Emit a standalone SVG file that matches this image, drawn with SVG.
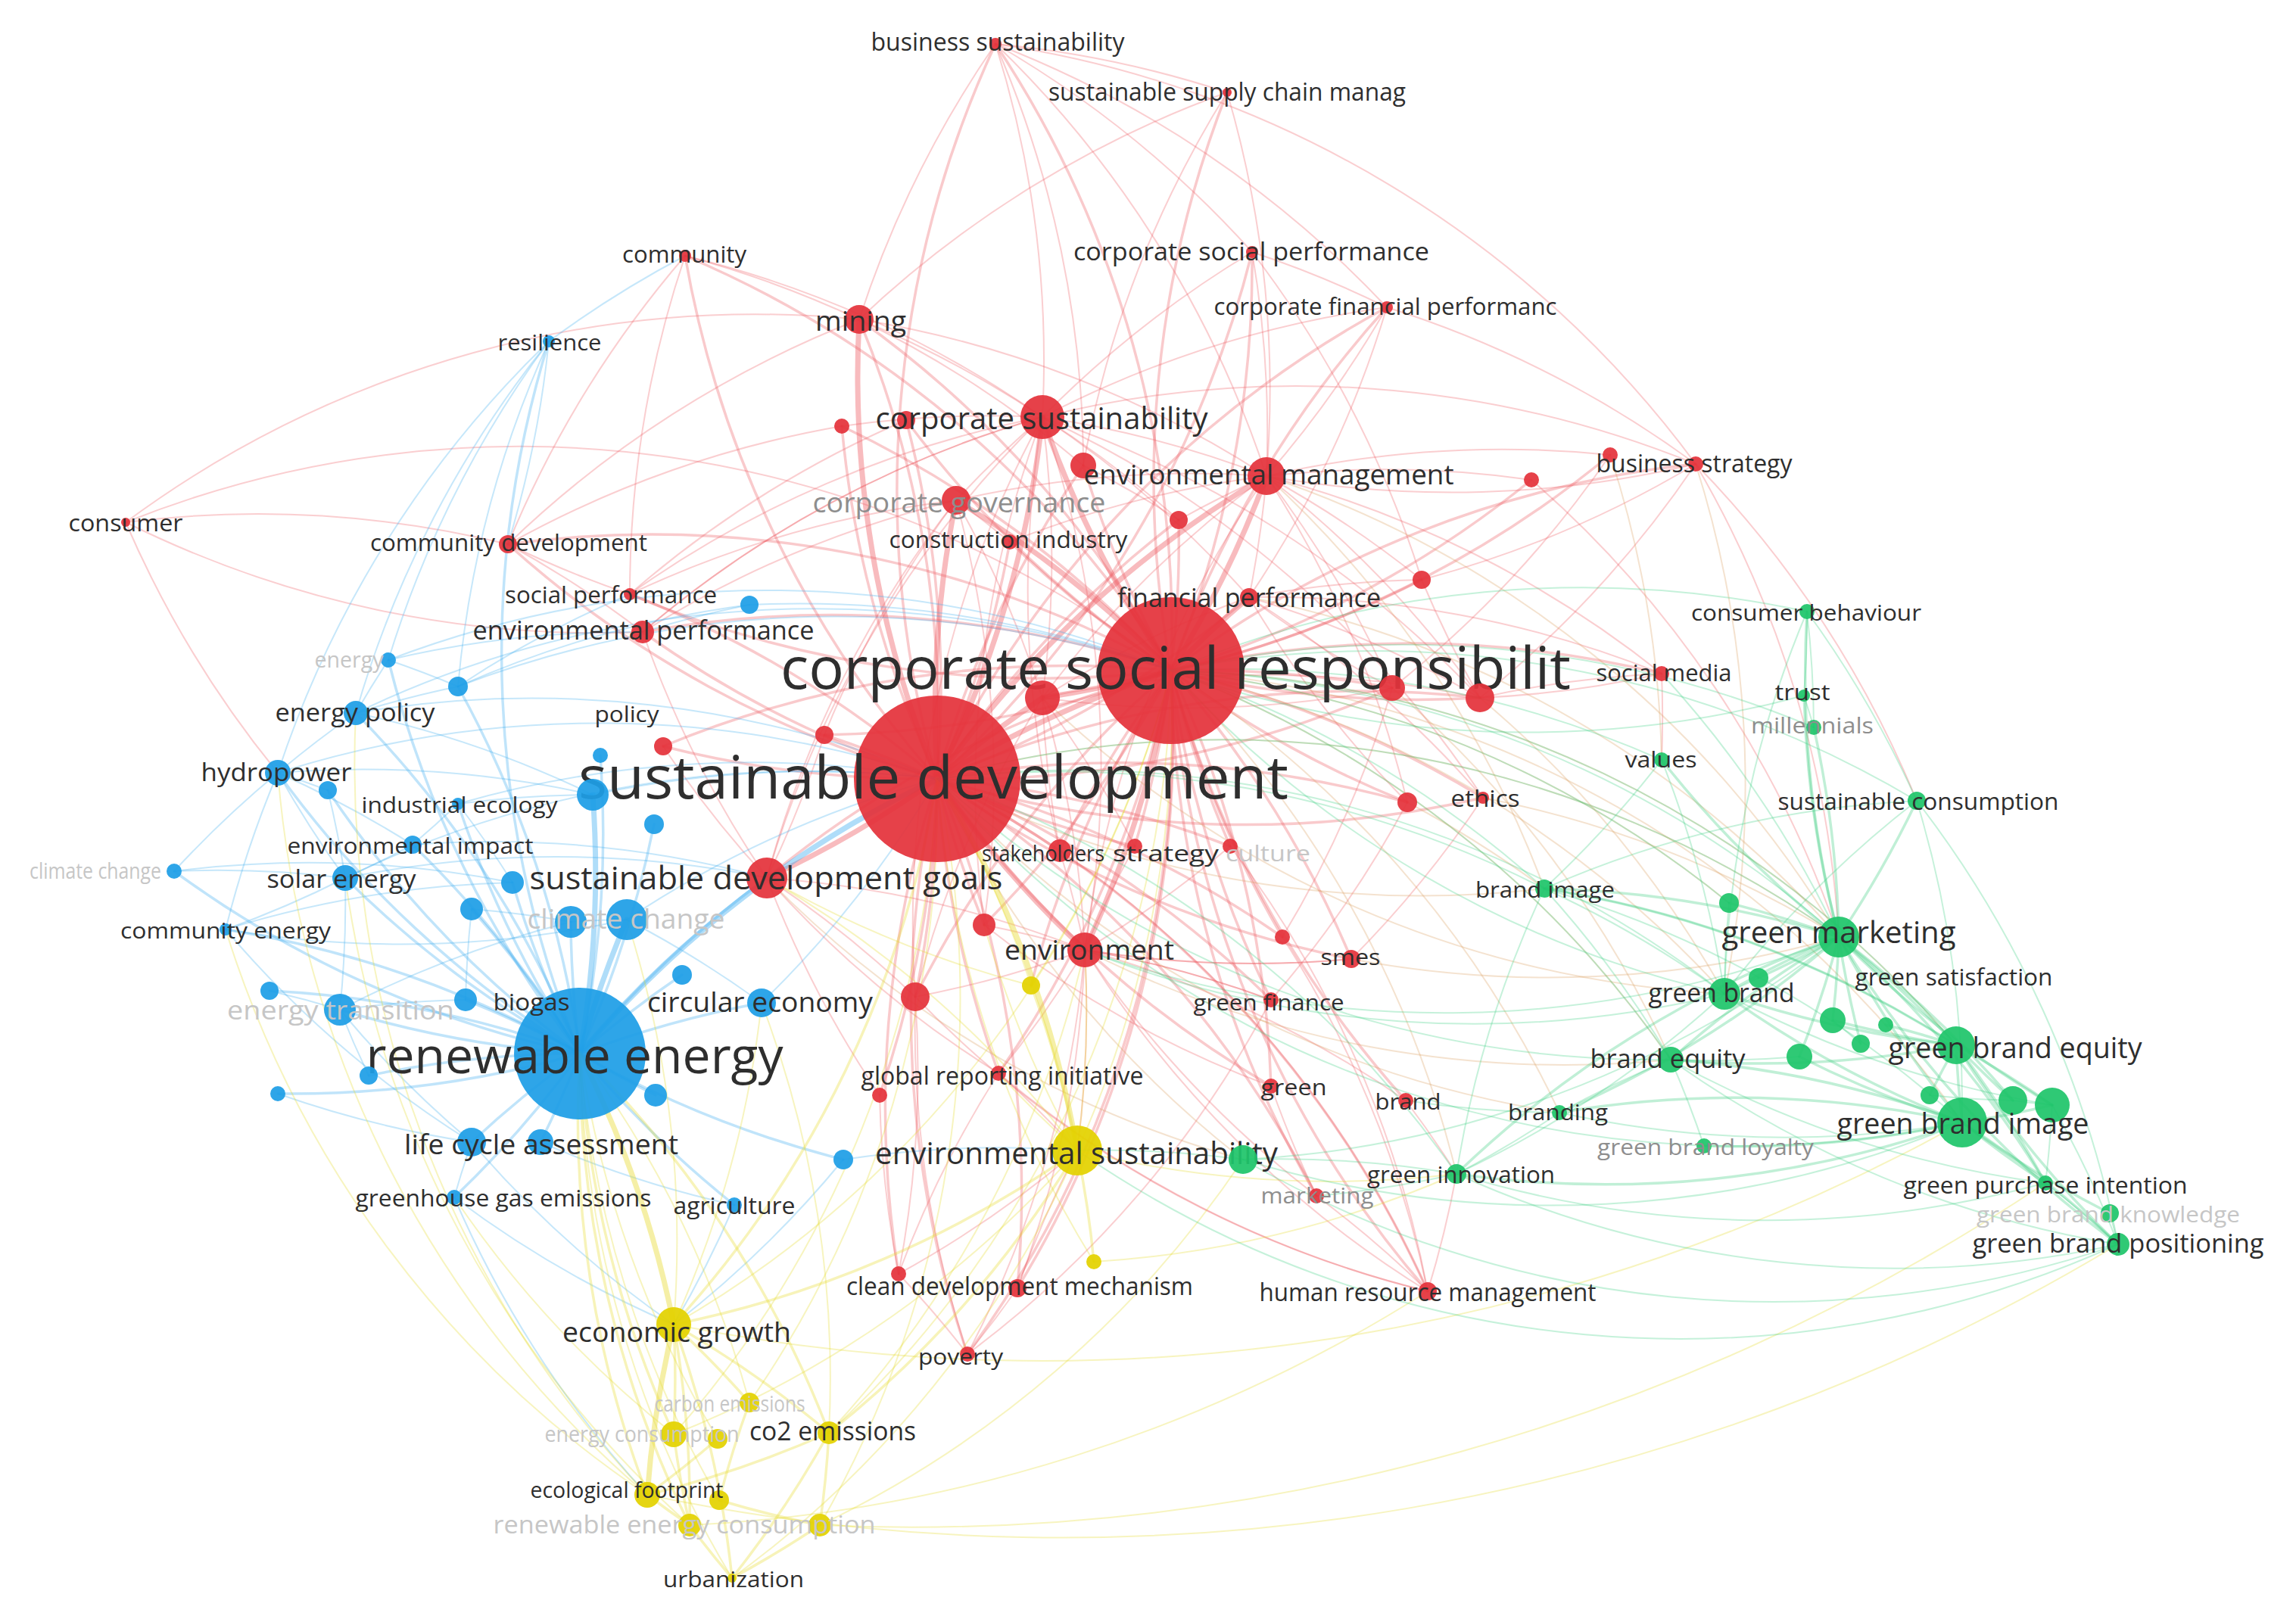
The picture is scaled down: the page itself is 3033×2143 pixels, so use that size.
<svg xmlns="http://www.w3.org/2000/svg" width="3033" height="2143" viewBox="0 0 3033 2143">
<style>
.c path{fill:none;stroke-linecap:round}
.er path{stroke:#ee5d63}
.eb path{stroke:#41aef0}
.eg path{stroke:#3fcf83}
.ey path{stroke:#e6da2c}
.eo path{stroke:#d9a060}
.w3{stroke-width:7;stroke-opacity:.42}
.w2{stroke-width:3.5;stroke-opacity:.33}
.w1{stroke-width:2;stroke-opacity:.3}
.r{fill:#e4333b;fill-opacity:.93}
.b{fill:#1e9ee6;fill-opacity:.93}
.gr{fill:#1fc56b;fill-opacity:.93}
.y{fill:#e3d200;fill-opacity:.93}
.t{font-family:"Open Sans","Noto Sans","Liberation Sans",sans-serif;fill:#2e2e2e;text-anchor:middle;dominant-baseline:central}
.f{fill:#c6c6c6}
.m{fill:#8e8e8e}
</style>
<rect width="3033" height="2143" fill="#ffffff"/>
<g id="connectors" class="c">
<g class="er w1">
<path d="M1135,422A1400,1400 0 0 0 905,338"/><path d="M1135,422A1400,1400 0 0 1 1377,551"/><path d="M1135,422A1400,1400 0 0 1 1315,58"/><path d="M1135,422A1400,1400 0 0 1 1621,122"/>
<path d="M1315,58A1400,1400 0 0 1 1377,551"/><path d="M1315,58A1400,1400 0 0 1 1673,629"/><path d="M1315,58A1400,1400 0 0 1 1654,333"/><path d="M1654,333A1400,1400 0 0 1 1832,406"/>
<path d="M1832,406A1400,1400 0 0 1 1673,629"/><path d="M1654,333A1400,1400 0 0 1 1673,629"/><path d="M1377,551A1400,1400 0 0 1 1673,629"/><path d="M1377,551A1400,1400 0 0 0 1263,661"/>
<path d="M1377,551A1400,1400 0 0 1 2240,613"/><path d="M1673,629A1400,1400 0 0 1 2127,601"/><path d="M1673,629A1400,1400 0 0 0 2240,613"/><path d="M1673,629A1400,1400 0 0 1 2023,634"/>
<path d="M2240,613A1400,1400 0 0 1 1955,922"/><path d="M2127,601A1400,1400 0 0 1 1839,909"/><path d="M166,690A1400,1400 0 0 1 1135,422"/><path d="M166,690A1400,1400 0 0 1 1547,886"/>
<path d="M166,690A1400,1400 0 0 1 671,719"/><path d="M671,719A1400,1400 0 0 1 905,338"/><path d="M671,719A1400,1400 0 0 1 1135,422"/><path d="M1263,661A1400,1400 0 0 1 1334,716"/>
<path d="M1886,1706A1400,1400 0 0 0 1924,1551"/><path d="M1886,1706A1400,1400 0 0 1 1433,1255"/><path d="M1886,1706A1400,1400 0 0 1 1319,1418"/><path d="M1739,1580A1400,1400 0 0 1 1679,1435"/>
<path d="M1857,1454A1400,1400 0 0 1 1924,1551"/><path d="M1278,1789A1400,1400 0 0 0 1344,1702"/><path d="M1187,1683A1400,1400 0 0 0 1423,1520"/><path d="M1344,1702A1400,1400 0 0 1 1423,1520"/>
<path d="M1278,1789A1400,1400 0 0 0 1433,1255"/><path d="M1319,1418A1400,1400 0 0 1 1423,1520"/><path d="M1433,1255A1400,1400 0 0 1 1423,1520"/><path d="M2195,890A1400,1400 0 0 0 1955,922"/>
<path d="M2195,890A1400,1400 0 0 1 2195,1004"/><path d="M1315,58A1400,1400 0 0 1 1621,122"/><path d="M1315,58A1400,1400 0 0 1 1832,406"/><path d="M1621,122A1400,1400 0 0 1 1673,629"/>
<path d="M905,338A1400,1400 0 0 1 1377,551"/><path d="M905,338A1400,1400 0 0 0 832,785"/><path d="M1315,58A1400,1400 0 0 1 2240,613"/><path d="M1832,406A1400,1400 0 0 1 2240,613"/>
<path d="M1654,333A1400,1400 0 0 1 1878,766"/><path d="M1135,422A1400,1400 0 0 1 1431,615"/><path d="M1135,422A1400,1400 0 0 1 1673,629"/><path d="M1673,629A1400,1400 0 0 1 1955,922"/>
<path d="M1650,789A1400,1400 0 0 0 1832,406"/><path d="M1263,661A1400,1400 0 0 0 849,835"/><path d="M849,835A1400,1400 0 0 1 1377,551"/><path d="M832,785A1400,1400 0 0 1 1197,555"/>
<path d="M1377,551A1400,1400 0 0 0 1112,563"/><path d="M1112,563A1400,1400 0 0 0 671,719"/><path d="M671,719A1400,1400 0 0 0 832,785"/><path d="M671,719A1400,1400 0 0 1 849,835"/>
<path d="M2240,613A1400,1400 0 0 1 2429,1238"/><path d="M2240,613A1400,1400 0 0 1 2532,1058"/><path d="M2023,634A1400,1400 0 0 1 2429,1238"/><path d="M1673,629A1400,1400 0 0 1 2195,890"/>
<path d="M1878,766A1400,1400 0 0 0 2240,613"/><path d="M1886,1706A1400,1400 0 0 1 1209,1317"/><path d="M1886,1706A1400,1400 0 0 0 1400,1124"/><path d="M1739,1580A1400,1400 0 0 1 1433,1255"/>
<path d="M1278,1789A1400,1400 0 0 1 1209,1317"/><path d="M1187,1683A1400,1400 0 0 0 1209,1317"/><path d="M1344,1702A1400,1400 0 0 0 1433,1255"/><path d="M1679,1321A1400,1400 0 0 0 1433,1255"/>
<path d="M1785,1267A1400,1400 0 0 1 1433,1255"/><path d="M1857,1454A1400,1400 0 0 0 1433,1255"/><path d="M1679,1435A1400,1400 0 0 1 1300,1222"/><path d="M1621,122A1400,1400 0 0 0 1431,615"/>
<path d="M1315,58A1400,1400 0 0 1 1431,615"/><path d="M1654,333A1400,1400 0 0 0 1377,551"/><path d="M1832,406A1400,1400 0 0 0 1377,551"/><path d="M166,690A1400,1400 0 0 0 849,835"/>
<path d="M1187,1683A1400,1400 0 0 1 1278,1789"/><path d="M1187,1683A1400,1400 0 0 1 1319,1418"/><path d="M1886,1706A1400,1400 0 0 0 1739,1580"/><path d="M1625,1118A1400,1400 0 0 1 1886,1706"/>
<path d="M1694,1238A1400,1400 0 0 1 1886,1706"/><path d="M166,690A1400,1400 0 0 0 367,1021"/><path d="M1278,1789A1400,1400 0 0 0 1679,1321"/><path d="M1187,1683A1400,1400 0 0 1 1162,1447"/>
<path d="M1377,551A1400,1400 0 0 1 1377,922"/><path d="M1377,551A1400,1400 0 0 1 1650,789"/><path d="M1377,551A1400,1400 0 0 1 1433,1255"/><path d="M1377,551A1400,1400 0 0 0 1400,1124"/>
<path d="M1377,551A1400,1400 0 0 0 1300,1222"/><path d="M1377,551A1400,1400 0 0 0 1013,1160"/><path d="M1377,551A1400,1400 0 0 0 1209,1317"/><path d="M1377,551A1400,1400 0 0 0 849,835"/>
<path d="M1377,551A1400,1400 0 0 0 832,785"/><path d="M1377,551A1400,1400 0 0 1 1557,687"/><path d="M1377,551A1400,1400 0 0 1 1959,1054"/><path d="M1377,551A1400,1400 0 0 1 1955,922"/>
<path d="M1673,629A1400,1400 0 0 0 1377,922"/><path d="M1673,629A1400,1400 0 0 1 1650,789"/><path d="M1673,629A1400,1400 0 0 0 1433,1255"/><path d="M1673,629A1400,1400 0 0 0 1557,687"/>
<path d="M1673,629A1400,1400 0 0 1 1878,766"/><path d="M1673,629A1400,1400 0 0 0 1334,716"/><path d="M1673,629A1400,1400 0 0 0 1263,661"/><path d="M1673,629A1400,1400 0 0 1 1839,909"/>
<path d="M1673,629A1400,1400 0 0 1 1859,1060"/><path d="M1263,661A1400,1400 0 0 1 1377,922"/><path d="M1263,661A1400,1400 0 0 0 1089,971"/><path d="M1263,661A1400,1400 0 0 0 1013,1160"/>
<path d="M1263,661A1400,1400 0 0 1 1300,1222"/><path d="M1263,661A1400,1400 0 0 0 832,785"/><path d="M1377,922A1400,1400 0 0 1 1433,1255"/><path d="M1377,922A1400,1400 0 0 0 1400,1124"/>
<path d="M1377,922A1400,1400 0 0 1 1499,1118"/><path d="M1377,922A1400,1400 0 0 0 1209,1317"/><path d="M1377,922A1400,1400 0 0 1 1650,789"/><path d="M1377,922A1400,1400 0 0 1 1955,922"/>
<path d="M1377,922A1400,1400 0 0 0 1839,909"/><path d="M1650,789A1400,1400 0 0 1 1955,922"/><path d="M1650,789A1400,1400 0 0 0 1839,909"/><path d="M1650,789A1400,1400 0 0 1 1878,766"/>
<path d="M1650,789A1400,1400 0 0 1 2195,890"/><path d="M1650,789A1400,1400 0 0 1 1959,1054"/><path d="M1650,789A1400,1400 0 0 0 1859,1060"/><path d="M1433,1255A1400,1400 0 0 0 1400,1124"/>
<path d="M1433,1255A1400,1400 0 0 1 1499,1118"/><path d="M1433,1255A1400,1400 0 0 0 1625,1118"/><path d="M1433,1255A1400,1400 0 0 1 1209,1317"/><path d="M1433,1255A1400,1400 0 0 0 1300,1222"/>
<path d="M1433,1255A1400,1400 0 0 1 1679,1321"/><path d="M1433,1255A1400,1400 0 0 0 1785,1267"/><path d="M1433,1255A1400,1400 0 0 1 1319,1418"/><path d="M1013,1160A1400,1400 0 0 1 1209,1317"/>
<path d="M1013,1160A1400,1400 0 0 0 1089,971"/><path d="M1013,1160A1400,1400 0 0 1 876,986"/><path d="M1013,1160A1400,1400 0 0 1 849,835"/><path d="M1013,1160A1400,1400 0 0 0 1319,1418"/>
<path d="M1013,1160A1400,1400 0 0 0 1162,1447"/><path d="M1013,1160A1400,1400 0 0 1 1433,1255"/><path d="M1955,922A1400,1400 0 0 0 2195,890"/><path d="M1959,1054A1400,1400 0 0 1 1785,1267"/>
<path d="M1859,1060A1400,1400 0 0 1 1679,1321"/><path d="M1839,909A1400,1400 0 0 1 1694,1238"/><path d="M1878,766A1400,1400 0 0 0 1955,922"/><path d="M1557,687A1400,1400 0 0 0 1431,615"/>
</g>
<g class="er w2">
<path d="M1238,1029A1400,1400 0 0 0 1135,422"/><path d="M1238,1029A1400,1400 0 0 1 905,338"/><path d="M1238,1029A1400,1400 0 0 1 671,719"/><path d="M1238,1029A1400,1400 0 0 1 849,835"/>
<path d="M1238,1029A1400,1400 0 0 0 832,785"/><path d="M1238,1029A1400,1400 0 0 0 1334,716"/><path d="M1238,1029A1400,1400 0 0 1 1112,563"/><path d="M1238,1029A1400,1400 0 0 0 1197,555"/>
<path d="M1238,1029A1400,1400 0 0 1 1431,615"/><path d="M1238,1029A1400,1400 0 0 0 1650,789"/><path d="M1238,1029A1400,1400 0 0 1 1955,922"/><path d="M1238,1029A1400,1400 0 0 0 1839,909"/>
<path d="M1238,1029A1400,1400 0 0 0 1959,1054"/><path d="M1238,1029A1400,1400 0 0 1 1859,1060"/><path d="M1238,1029A1400,1400 0 0 1 1400,1124"/><path d="M1238,1029A1400,1400 0 0 0 1499,1118"/>
<path d="M1238,1029A1400,1400 0 0 1 1625,1118"/><path d="M1238,1029A1400,1400 0 0 0 1300,1222"/><path d="M1238,1029A1400,1400 0 0 1 1209,1317"/><path d="M1238,1029A1400,1400 0 0 1 1679,1321"/>
<path d="M1238,1029A1400,1400 0 0 0 1319,1418"/><path d="M1238,1029A1400,1400 0 0 1 1162,1447"/><path d="M1238,1029A1400,1400 0 0 0 1679,1435"/><path d="M1238,1029A1400,1400 0 0 1 1739,1580"/>
<path d="M1238,1029A1400,1400 0 0 0 1187,1683"/><path d="M1238,1029A1400,1400 0 0 1 1344,1702"/><path d="M1238,1029A1400,1400 0 0 1 1886,1706"/><path d="M1238,1029A1400,1400 0 0 0 1278,1789"/>
<path d="M1238,1029A1400,1400 0 0 0 1785,1267"/><path d="M1238,1029A1400,1400 0 0 1 1694,1238"/><path d="M1238,1029A1400,1400 0 0 1 1315,58"/><path d="M1238,1029A1400,1400 0 0 0 1654,333"/>
<path d="M1238,1029A1400,1400 0 0 1 1832,406"/><path d="M1238,1029A1400,1400 0 0 1 1557,687"/><path d="M1238,1029A1400,1400 0 0 0 1089,971"/><path d="M1238,1029A1400,1400 0 0 1 876,986"/>
<path d="M1547,886A1400,1400 0 0 0 1315,58"/><path d="M1547,886A1400,1400 0 0 1 1621,122"/><path d="M1547,886A1400,1400 0 0 0 1654,333"/><path d="M1547,886A1400,1400 0 0 1 1832,406"/>
<path d="M1547,886A1400,1400 0 0 0 1135,422"/><path d="M1547,886A1400,1400 0 0 0 905,338"/><path d="M1547,886A1400,1400 0 0 1 1334,716"/><path d="M1547,886A1400,1400 0 0 0 1557,687"/>
<path d="M1547,886A1400,1400 0 0 1 1431,615"/><path d="M1547,886A1400,1400 0 0 0 2127,601"/><path d="M1547,886A1400,1400 0 0 1 2240,613"/><path d="M1547,886A1400,1400 0 0 0 2023,634"/>
<path d="M1547,886A1400,1400 0 0 0 671,719"/><path d="M1547,886A1400,1400 0 0 1 832,785"/><path d="M1547,886A1400,1400 0 0 0 849,835"/><path d="M1547,886A1400,1400 0 0 0 1878,766"/>
<path d="M1547,886A1400,1400 0 0 1 2195,890"/><path d="M1547,886A1400,1400 0 0 0 1955,922"/><path d="M1547,886A1400,1400 0 0 1 1839,909"/><path d="M1547,886A1400,1400 0 0 1 1959,1054"/>
<path d="M1547,886A1400,1400 0 0 0 1859,1060"/><path d="M1547,886A1400,1400 0 0 0 1400,1124"/><path d="M1547,886A1400,1400 0 0 1 1499,1118"/><path d="M1547,886A1400,1400 0 0 0 1625,1118"/>
<path d="M1547,886A1400,1400 0 0 1 1785,1267"/><path d="M1547,886A1400,1400 0 0 0 1679,1321"/><path d="M1547,886A1400,1400 0 0 1 1679,1435"/><path d="M1547,886A1400,1400 0 0 0 1857,1454"/>
<path d="M1547,886A1400,1400 0 0 0 1739,1580"/><path d="M1547,886A1400,1400 0 0 0 1886,1706"/><path d="M1547,886A1400,1400 0 0 0 1013,1160"/><path d="M1547,886A1400,1400 0 0 0 1209,1317"/>
<path d="M1547,886A1400,1400 0 0 1 1300,1222"/><path d="M1547,886A1400,1400 0 0 1 1089,971"/><path d="M1547,886A1400,1400 0 0 0 876,986"/><path d="M1547,886A1400,1400 0 0 0 1112,563"/>
<path d="M1547,886A1400,1400 0 0 1 1197,555"/><path d="M1547,886A1400,1400 0 0 1 1319,1418"/><path d="M1547,886A1400,1400 0 0 1 1344,1702"/><path d="M1547,886A1400,1400 0 0 1 1278,1789"/>
<path d="M1547,886A1400,1400 0 0 0 1694,1238"/><path d="M1547,886A1400,1400 0 0 0 1362,1302"/>
</g>
<g class="er w3">
<path d="M1238,1029A1400,1400 0 0 1 1547,886"/><path d="M1238,1029A1400,1400 0 0 1 1013,1160"/><path d="M1238,1029A1400,1400 0 0 0 1377,551"/><path d="M1547,886A1400,1400 0 0 1 1377,551"/>
<path d="M1547,886A1400,1400 0 0 0 1673,629"/><path d="M1238,1029A1400,1400 0 0 0 1433,1255"/><path d="M1238,1029A1400,1400 0 0 1 1377,922"/><path d="M1547,886A1400,1400 0 0 1 1377,922"/>
<path d="M1547,886A1400,1400 0 0 1 1650,789"/><path d="M1238,1029A1400,1400 0 0 1 1673,629"/><path d="M1238,1029A1400,1400 0 0 1 1263,661"/><path d="M1547,886A1400,1400 0 0 0 1263,661"/>
<path d="M1547,886A1400,1400 0 0 1 1433,1255"/><path d="M1238,1029A1400,1400 0 0 1 1135,422"/>
</g>
<g class="eo w1">
<path d="M1547,886A1400,1400 0 0 1 2278,1313"/><path d="M1547,886A1400,1400 0 0 1 2207,1400"/><path d="M1547,886A1400,1400 0 0 1 2060,1470"/><path d="M1547,886A1400,1400 0 0 1 2584,1381"/>
<path d="M1547,886A1400,1400 0 0 1 2592,1483"/><path d="M1547,886A1400,1400 0 0 1 2284,1193"/><path d="M1238,1029A1400,1400 0 0 1 2429,1238"/><path d="M1238,1029A1400,1400 0 0 0 2040,1174"/>
<path d="M1238,1029A1400,1400 0 0 0 2060,1470"/><path d="M1673,629A1400,1400 0 0 1 2429,1238"/><path d="M1673,629A1400,1400 0 0 1 2040,1174"/><path d="M1650,789A1400,1400 0 0 1 2429,1238"/>
<path d="M1955,922A1400,1400 0 0 1 2278,1313"/><path d="M1839,909A1400,1400 0 0 1 2207,1400"/><path d="M1959,1054A1400,1400 0 0 1 2429,1238"/><path d="M1859,1060A1400,1400 0 0 1 2040,1174"/>
<path d="M1377,922A1400,1400 0 0 0 2278,1313"/><path d="M1433,1255A1400,1400 0 0 0 2207,1400"/><path d="M1785,1267A1400,1400 0 0 0 2429,1238"/><path d="M1013,1160A1400,1400 0 0 0 1642,1532"/>
<path d="M1238,1029A1400,1400 0 0 0 1642,1532"/><path d="M1547,886A1400,1400 0 0 1 1924,1551"/><path d="M2240,613A1400,1400 0 0 1 2278,1313"/><path d="M2127,601A1400,1400 0 0 1 2195,1004"/>
</g>
<g class="eb w1">
<path d="M470,942A1400,1400 0 0 0 367,1021"/><path d="M470,942A1400,1400 0 0 1 513,872"/><path d="M470,942A1400,1400 0 0 1 605,907"/><path d="M367,1021A1400,1400 0 0 0 456,1160"/>
<path d="M367,1021A1400,1400 0 0 1 545,1116"/><path d="M367,1021A1400,1400 0 0 0 298,1228"/><path d="M456,1160A1400,1400 0 0 0 230,1151"/><path d="M456,1160A1400,1400 0 0 1 298,1228"/>
<path d="M456,1160A1400,1400 0 0 1 449,1334"/><path d="M456,1160A1400,1400 0 0 0 545,1116"/><path d="M449,1334A1400,1400 0 0 0 356,1309"/><path d="M605,1062A1400,1400 0 0 1 545,1116"/>
<path d="M605,1062A1400,1400 0 0 1 783,1050"/><path d="M725,451A1400,1400 0 0 0 605,907"/><path d="M605,907A1400,1400 0 0 1 990,799"/><path d="M990,799A1400,1400 0 0 0 849,835"/>
<path d="M230,1151A1400,1400 0 0 1 677,1166"/><path d="M600,1582A1400,1400 0 0 0 890,1750"/><path d="M970,1592A1400,1400 0 0 1 890,1750"/><path d="M623,1509A1400,1400 0 0 0 600,1582"/>
<path d="M714,1509A1400,1400 0 0 0 970,1592"/><path d="M1006,1325A1400,1400 0 0 0 1238,1029"/><path d="M828,1215A1400,1400 0 0 1 1238,1029"/><path d="M783,1050A1400,1400 0 0 1 1238,1029"/>
<path d="M1114,1532A1400,1400 0 0 1 1423,1520"/><path d="M513,872A1400,1400 0 0 1 605,907"/><path d="M367,1021A1400,1400 0 0 1 433,1044"/><path d="M433,1044A1400,1400 0 0 1 456,1160"/>
<path d="M449,1334A1400,1400 0 0 0 623,1509"/><path d="M367,1445A1400,1400 0 0 0 623,1509"/><path d="M487,1421A1400,1400 0 0 1 449,1334"/><path d="M605,1062A1400,1400 0 0 1 677,1166"/>
<path d="M623,1201A1400,1400 0 0 1 754,1218"/><path d="M754,1218A1400,1400 0 0 1 828,1215"/><path d="M828,1215A1400,1400 0 0 1 1006,1325"/><path d="M615,1321A1400,1400 0 0 1 623,1201"/>
<path d="M470,942A1400,1400 0 0 1 1547,886"/><path d="M367,1021A1400,1400 0 0 1 1238,1029"/><path d="M456,1160A1400,1400 0 0 1 1013,1160"/><path d="M605,907A1400,1400 0 0 1 832,785"/>
<path d="M990,799A1400,1400 0 0 1 1547,886"/><path d="M725,451A1400,1400 0 0 0 470,942"/><path d="M725,451A1400,1400 0 0 0 367,1021"/><path d="M513,872A1400,1400 0 0 1 1547,886"/>
<path d="M605,907A1400,1400 0 0 1 1547,886"/><path d="M298,1228A1400,1400 0 0 0 828,1215"/><path d="M449,1334A1400,1400 0 0 1 754,1218"/><path d="M367,1021A1400,1400 0 0 1 783,1050"/>
<path d="M470,942A1400,1400 0 0 1 783,1050"/><path d="M725,451A1400,1400 0 0 1 905,338"/><path d="M600,1582A1400,1400 0 0 0 855,1975"/><path d="M623,1509A1400,1400 0 0 0 890,1750"/>
<path d="M1114,1532A1400,1400 0 0 1 890,1750"/><path d="M725,451A1400,1400 0 0 0 513,872"/><path d="M230,1151A1400,1400 0 0 1 367,1021"/><path d="M298,1228A1400,1400 0 0 0 623,1509"/>
<path d="M725,451A1400,1400 0 0 1 671,719"/><path d="M513,872A1400,1400 0 0 1 849,835"/><path d="M470,942A1400,1400 0 0 1 1238,1029"/><path d="M456,1160A1400,1400 0 0 1 1238,1029"/>
<path d="M545,1116A1400,1400 0 0 1 1013,1160"/><path d="M605,1062A1400,1400 0 0 1 1238,1029"/><path d="M298,1228A1400,1400 0 0 1 677,1166"/><path d="M449,1334A1400,1400 0 0 1 615,1321"/>
</g>
<g class="eb w2">
<path d="M766,1392A1400,1400 0 0 1 367,1021"/><path d="M766,1392A1400,1400 0 0 0 470,942"/><path d="M766,1392A1400,1400 0 0 1 456,1160"/><path d="M766,1392A1400,1400 0 0 0 298,1228"/>
<path d="M766,1392A1400,1400 0 0 1 449,1334"/><path d="M766,1392A1400,1400 0 0 0 615,1321"/><path d="M766,1392A1400,1400 0 0 1 1006,1325"/><path d="M766,1392A1400,1400 0 0 0 623,1509"/>
<path d="M766,1392A1400,1400 0 0 1 714,1509"/><path d="M766,1392A1400,1400 0 0 1 600,1582"/><path d="M766,1392A1400,1400 0 0 0 970,1592"/><path d="M766,1392A1400,1400 0 0 0 864,1089"/>
<path d="M766,1392A1400,1400 0 0 1 754,1218"/><path d="M766,1392A1400,1400 0 0 1 677,1166"/><path d="M766,1392A1400,1400 0 0 0 623,1201"/><path d="M766,1392A1400,1400 0 0 1 901,1288"/>
<path d="M766,1392A1400,1400 0 0 0 487,1421"/><path d="M766,1392A1400,1400 0 0 1 367,1445"/><path d="M766,1392A1400,1400 0 0 0 866,1447"/><path d="M766,1392A1400,1400 0 0 1 605,1062"/>
<path d="M766,1392A1400,1400 0 0 0 545,1116"/><path d="M766,1392A1400,1400 0 0 1 513,872"/><path d="M766,1392A1400,1400 0 0 0 605,907"/><path d="M766,1392A1400,1400 0 0 1 725,451"/>
<path d="M766,1392A1400,1400 0 0 0 1114,1532"/><path d="M766,1392A1400,1400 0 0 1 230,1151"/><path d="M766,1392A1400,1400 0 0 0 356,1309"/><path d="M766,1392A1400,1400 0 0 1 433,1044"/>
<path d="M766,1392A1400,1400 0 0 0 793,998"/><path d="M766,1392A1400,1400 0 0 1 1013,1160"/>
</g>
<g class="eb w3">
<path d="M766,1392A1400,1400 0 0 1 1238,1029"/><path d="M766,1392A1400,1400 0 0 1 828,1215"/><path d="M766,1392A1400,1400 0 0 0 783,1050"/>
</g>
<g class="ey w1">
<path d="M1423,1520A1400,1400 0 0 0 1924,1551"/><path d="M1095,1893A1400,1400 0 0 0 1547,886"/><path d="M890,1895A1400,1400 0 0 0 1423,1520"/><path d="M1445,1667A1400,1400 0 0 0 1924,1551"/>
<path d="M855,1975A2700,2700 0 0 0 2798,1644"/><path d="M1083,2015A2700,2700 0 0 0 2702,1563"/><path d="M890,1750A2500,2500 0 0 0 2592,1483"/><path d="M990,1853A1400,1400 0 0 0 766,1392"/>
<path d="M967,2085A1400,1400 0 0 0 1423,1520"/><path d="M1362,1302A1400,1400 0 0 0 1238,1029"/><path d="M1362,1302A1400,1400 0 0 0 1547,886"/><path d="M890,1895A1400,1400 0 0 1 600,1582"/>
<path d="M855,1975A1400,1400 0 0 1 367,1021"/><path d="M911,2015A1400,1400 0 0 1 456,1160"/><path d="M855,1975A1400,1400 0 0 1 470,942"/><path d="M1423,1520A1400,1400 0 0 0 1547,886"/>
<path d="M1423,1520A1400,1400 0 0 0 1433,1255"/><path d="M1423,1520A1400,1400 0 0 1 1319,1418"/><path d="M1445,1667A1400,1400 0 0 1 1238,1029"/><path d="M890,1750A1400,1400 0 0 0 1006,1325"/>
<path d="M1095,1893A1400,1400 0 0 0 1006,1325"/><path d="M990,1853A1400,1400 0 0 0 1238,1029"/><path d="M1083,2015A1400,1400 0 0 0 1238,1029"/><path d="M890,1895A1400,1400 0 0 0 1238,1029"/>
<path d="M890,1750A1400,1400 0 0 0 828,1215"/><path d="M967,2085A1400,1400 0 0 1 766,1392"/><path d="M950,1982A1400,1400 0 0 1 766,1392"/><path d="M948,1901A1400,1400 0 0 1 766,1392"/>
<path d="M911,2015A2000,2000 0 0 0 1886,1706"/><path d="M1083,2015A1400,1400 0 0 0 1642,1532"/><path d="M1095,1893A1400,1400 0 0 0 1433,1255"/><path d="M890,1750A1400,1400 0 0 0 1547,886"/>
<path d="M1423,1520A1400,1400 0 0 0 1013,1160"/><path d="M1423,1520A1400,1400 0 0 1 1300,1222"/><path d="M1362,1302A1400,1400 0 0 1 1013,1160"/><path d="M855,1975A1400,1400 0 0 1 298,1228"/>
</g>
<g class="ey w2">
<path d="M1423,1520A1400,1400 0 0 1 890,1750"/><path d="M1423,1520A1400,1400 0 0 1 1095,1893"/><path d="M1423,1520A1400,1400 0 0 1 1445,1667"/><path d="M1423,1520A1400,1400 0 0 0 1362,1302"/>
<path d="M890,1750A1400,1400 0 0 1 890,1895"/><path d="M890,1750A1400,1400 0 0 1 990,1853"/><path d="M890,1750A1400,1400 0 0 1 1095,1893"/><path d="M890,1750A1400,1400 0 0 1 911,2015"/>
<path d="M890,1750A1400,1400 0 0 1 967,2085"/><path d="M1095,1893A1400,1400 0 0 1 855,1975"/><path d="M1095,1893A1400,1400 0 0 1 1083,2015"/><path d="M1095,1893A1400,1400 0 0 1 967,2085"/>
<path d="M990,1853A1400,1400 0 0 0 950,1982"/><path d="M890,1895A1400,1400 0 0 0 911,2015"/><path d="M855,1975A1400,1400 0 0 0 911,2015"/><path d="M950,1982A1400,1400 0 0 0 1083,2015"/>
<path d="M911,2015A1400,1400 0 0 0 967,2085"/><path d="M1083,2015A1400,1400 0 0 1 967,2085"/><path d="M948,1901A1400,1400 0 0 1 855,1975"/><path d="M1095,1893A1400,1400 0 0 0 766,1392"/>
<path d="M855,1975A1400,1400 0 0 1 766,1392"/><path d="M890,1750A1400,1400 0 0 0 1238,1029"/><path d="M890,1895A1400,1400 0 0 1 766,1392"/><path d="M911,2015A1400,1400 0 0 1 766,1392"/>
</g>
<g class="ey w3">
<path d="M1423,1520A1400,1400 0 0 0 1238,1029"/><path d="M890,1750A1400,1400 0 0 0 766,1392"/><path d="M890,1750A1400,1400 0 0 0 855,1975"/>
</g>
<g class="eg w1">
<path d="M2387,808A1400,1400 0 0 1 2383,919"/><path d="M2387,808A1400,1400 0 0 1 2396,961"/><path d="M2387,808A1400,1400 0 0 1 2532,1058"/><path d="M2383,919A1400,1400 0 0 1 2396,961"/>
<path d="M2532,1058A1400,1400 0 0 1 2592,1483"/><path d="M2532,1058A1400,1400 0 0 1 2798,1644"/><path d="M2040,1174A1400,1400 0 0 1 2278,1313"/><path d="M2040,1174A1400,1400 0 0 1 2207,1400"/>
<path d="M2060,1470A1400,1400 0 0 1 2207,1400"/><path d="M2251,1514A1400,1400 0 0 0 2207,1400"/><path d="M1924,1551A1400,1400 0 0 0 2278,1313"/><path d="M1924,1551A1400,1400 0 0 0 1642,1532"/>
<path d="M1642,1532A1400,1400 0 0 0 1423,1520"/><path d="M2040,1174A1400,1400 0 0 0 1547,886"/><path d="M2195,1004A1400,1400 0 0 0 1547,886"/><path d="M2429,1238A1400,1400 0 0 0 1547,886"/>
<path d="M2278,1313A1400,1400 0 0 0 1238,1029"/><path d="M1924,1551A1400,1400 0 0 0 1238,1029"/><path d="M2207,1400A1400,1400 0 0 0 1547,886"/><path d="M2798,1644A1400,1400 0 0 0 2702,1563"/>
<path d="M2787,1603A1400,1400 0 0 1 2798,1644"/><path d="M2702,1563A1400,1400 0 0 0 2711,1460"/><path d="M2798,1644A1400,1400 0 0 0 2711,1460"/><path d="M2278,1313A1400,1400 0 0 1 1547,886"/>
<path d="M2284,1193A1400,1400 0 0 0 1547,886"/><path d="M2429,1238A1400,1400 0 0 0 1238,1029"/><path d="M2592,1483A1400,1400 0 0 1 1238,1029"/><path d="M2584,1381A1400,1400 0 0 0 1547,886"/>
<path d="M2532,1058A1400,1400 0 0 0 1547,886"/><path d="M2396,961A1400,1400 0 0 0 1547,886"/><path d="M2387,808A1400,1400 0 0 0 1547,886"/><path d="M2383,919A1400,1400 0 0 1 1547,886"/>
<path d="M2195,1004A1400,1400 0 0 1 2278,1313"/><path d="M2040,1174A1400,1400 0 0 0 1924,1551"/><path d="M2060,1470A1400,1400 0 0 1 1924,1551"/><path d="M1642,1532A1400,1400 0 0 0 2429,1238"/>
<path d="M1924,1551A1400,1400 0 0 0 2798,1644"/><path d="M1642,1532A1400,1400 0 0 0 2592,1483"/><path d="M2429,1238A1400,1400 0 0 1 1433,1255"/><path d="M2278,1313A1400,1400 0 0 1 1433,1255"/>
<path d="M2207,1400A1400,1400 0 0 1 1238,1029"/><path d="M2040,1174A1400,1400 0 0 0 1238,1029"/><path d="M1924,1551A1400,1400 0 0 1 1739,1580"/><path d="M2060,1470A1400,1400 0 0 1 1857,1454"/>
<path d="M2429,1238A1400,1400 0 0 0 2195,890"/><path d="M2798,1644A1400,1400 0 0 1 1642,1532"/><path d="M2702,1563A1400,1400 0 0 1 1924,1551"/><path d="M2798,1644A1400,1400 0 0 1 1423,1520"/>
<path d="M2284,1193A1400,1400 0 0 0 2278,1313"/><path d="M2323,1292A1400,1400 0 0 1 2278,1313"/><path d="M2421,1348A1400,1400 0 0 1 2458,1379"/><path d="M2377,1396A1400,1400 0 0 1 2207,1400"/>
<path d="M2549,1447A1400,1400 0 0 0 2659,1454"/><path d="M2659,1454A1400,1400 0 0 0 2711,1460"/><path d="M2040,1174A1400,1400 0 0 1 2532,1058"/><path d="M2207,1400A1400,1400 0 0 0 2798,1644"/>
<path d="M2040,1174A1400,1400 0 0 1 2592,1483"/><path d="M2040,1174A1400,1400 0 0 1 2584,1381"/><path d="M2060,1470A1400,1400 0 0 0 2592,1483"/><path d="M2278,1313A1400,1400 0 0 0 2711,1460"/>
<path d="M2207,1400A1400,1400 0 0 0 2702,1563"/><path d="M2195,1004A1400,1400 0 0 1 2040,1174"/><path d="M2387,808A1400,1400 0 0 0 2278,1313"/><path d="M2532,1058A1400,1400 0 0 0 2278,1313"/>
</g>
<g class="eg w2">
<path d="M2429,1238A1400,1400 0 0 0 2284,1193"/><path d="M2429,1238A1400,1400 0 0 1 2323,1292"/><path d="M2429,1238A1400,1400 0 0 0 2278,1313"/><path d="M2429,1238A1400,1400 0 0 1 2421,1348"/>
<path d="M2429,1238A1400,1400 0 0 0 2458,1379"/><path d="M2429,1238A1400,1400 0 0 1 2584,1381"/><path d="M2429,1238A1400,1400 0 0 0 2207,1400"/><path d="M2429,1238A1400,1400 0 0 1 2377,1396"/>
<path d="M2429,1238A1400,1400 0 0 0 2592,1483"/><path d="M2429,1238A1400,1400 0 0 1 2659,1454"/><path d="M2429,1238A1400,1400 0 0 0 2711,1460"/><path d="M2429,1238A1400,1400 0 0 1 2702,1563"/>
<path d="M2429,1238A1400,1400 0 0 0 2532,1058"/><path d="M2429,1238A1400,1400 0 0 1 2387,808"/><path d="M2429,1238A1400,1400 0 0 0 2040,1174"/><path d="M2429,1238A1400,1400 0 0 1 2060,1470"/>
<path d="M2429,1238A1400,1400 0 0 0 1924,1551"/><path d="M2429,1238A1400,1400 0 0 1 2383,919"/><path d="M2429,1238A1400,1400 0 0 0 2396,961"/><path d="M2429,1238A1400,1400 0 0 1 2195,1004"/>
<path d="M2429,1238A1400,1400 0 0 0 2798,1644"/>
<path d="M2584,1381A1400,1400 0 0 1 2278,1313"/><path d="M2584,1381A1400,1400 0 0 0 2592,1483"/><path d="M2584,1381A1400,1400 0 0 0 2659,1454"/><path d="M2584,1381A1400,1400 0 0 1 2711,1460"/>
<path d="M2584,1381A1400,1400 0 0 0 2549,1447"/><path d="M2584,1381A1400,1400 0 0 1 2702,1563"/><path d="M2584,1381A1400,1400 0 0 0 2798,1644"/><path d="M2584,1381A1400,1400 0 0 1 2421,1348"/>
<path d="M2584,1381A1400,1400 0 0 0 2491,1354"/><path d="M2584,1381A1400,1400 0 0 1 2207,1400"/><path d="M2584,1381A1400,1400 0 0 0 2040,1174"/>
<path d="M2592,1483A1400,1400 0 0 1 2278,1313"/><path d="M2592,1483A1400,1400 0 0 0 2711,1460"/><path d="M2592,1483A1400,1400 0 0 0 2702,1563"/><path d="M2592,1483A1400,1400 0 0 1 2798,1644"/>
<path d="M2592,1483A1400,1400 0 0 0 2787,1603"/><path d="M2592,1483A1400,1400 0 0 0 2207,1400"/><path d="M2592,1483A1400,1400 0 0 1 2377,1396"/><path d="M2592,1483A1400,1400 0 0 1 2251,1514"/>
<path d="M2592,1483A1400,1400 0 0 0 2060,1470"/><path d="M2592,1483A1400,1400 0 0 1 1924,1551"/>
</g>
</g>
<g id="n-sustainable-development"><circle class="r" cx="1238" cy="1029" r="110"/><text class="t" x="1233" y="1025" font-size="78" textLength="938" lengthAdjust="spacingAndGlyphs">sustainable development</text></g>
<g id="n-corporate-social-responsibilit"><circle class="r" cx="1547" cy="886" r="97"/><text class="t" x="1553" y="880" font-size="76" textLength="1044" lengthAdjust="spacingAndGlyphs">corporate social responsibilit</text></g>
<g id="n-renewable-energy"><circle class="b" cx="766" cy="1392" r="87"/><text class="t" x="759" y="1392" font-size="66" textLength="551" lengthAdjust="spacingAndGlyphs">renewable energy</text></g>
<g id="n-red-unlabelled">
<circle class="r" cx="1197" cy="555" r="12"/><circle class="r" cx="1112" cy="563" r="10"/><circle class="r" cx="1431" cy="615" r="17"/><circle class="r" cx="1557" cy="687" r="12"/>
<circle class="r" cx="1878" cy="766" r="12"/><circle class="r" cx="1955" cy="922" r="19"/><circle class="r" cx="1839" cy="909" r="17"/><circle class="r" cx="1377" cy="922" r="23"/>
<circle class="r" cx="1089" cy="971" r="12"/><circle class="r" cx="876" cy="986" r="12"/><circle class="r" cx="1859" cy="1060" r="13"/><circle class="r" cx="1300" cy="1222" r="15"/>
<circle class="r" cx="1209" cy="1317" r="19"/><circle class="r" cx="1694" cy="1238" r="10"/><circle class="r" cx="1162" cy="1447" r="10"/><circle class="r" cx="2127" cy="601" r="10"/>
<circle class="r" cx="2023" cy="634" r="10"/>
</g>
<g id="n-business-sustainability"><circle class="r" cx="1315" cy="58" r="8"/><text class="t" x="1318" y="54" font-size="32" textLength="335" lengthAdjust="spacingAndGlyphs">business sustainability</text></g>
<g id="n-sustainable-supply-chain-manag"><circle class="r" cx="1621" cy="122" r="6"/><text class="t" x="1621" y="120" font-size="32" textLength="472" lengthAdjust="spacingAndGlyphs">sustainable supply chain manag</text></g>
<g id="n-community"><circle class="r" cx="905" cy="338" r="8"/><text class="t" x="904" y="335" font-size="31" textLength="164" lengthAdjust="spacingAndGlyphs">community</text></g>
<g id="n-corporate-social-performance"><circle class="r" cx="1654" cy="333" r="8"/><text class="t" x="1653" y="331" font-size="33" textLength="470" lengthAdjust="spacingAndGlyphs">corporate social performance</text></g>
<g id="n-mining"><circle class="r" cx="1135" cy="422" r="19"/><text class="t" x="1137" y="422" font-size="37" textLength="120" lengthAdjust="spacingAndGlyphs">mining</text></g>
<g id="n-corporate-financial-performanc"><circle class="r" cx="1832" cy="406" r="8"/><text class="t" x="1830" y="404" font-size="31" textLength="453" lengthAdjust="spacingAndGlyphs">corporate financial performanc</text></g>
<g id="n-corporate-sustainability"><circle class="r" cx="1377" cy="551" r="29"/><text class="t" x="1376" y="551" font-size="40" textLength="439" lengthAdjust="spacingAndGlyphs">corporate sustainability</text></g>
<g id="n-environmental-management"><circle class="r" cx="1673" cy="629" r="25"/><text class="t" x="1676" y="625" font-size="37" textLength="489" lengthAdjust="spacingAndGlyphs">environmental management</text></g>
<g id="n-business-strategy"><circle class="r" cx="2240" cy="613" r="10"/><text class="t" x="2238" y="611" font-size="32" textLength="259" lengthAdjust="spacingAndGlyphs">business strategy</text></g>
<g id="n-consumer"><circle class="r" cx="166" cy="690" r="6"/><text class="t" x="166" y="690" font-size="31" textLength="151" lengthAdjust="spacingAndGlyphs">consumer</text></g>
<g id="n-community-development"><circle class="r" cx="671" cy="719" r="12"/><text class="t" x="672" y="716" font-size="31" textLength="366" lengthAdjust="spacingAndGlyphs">community development</text></g>
<g id="n-corporate-governance"><circle class="r" cx="1263" cy="661" r="19"/><text class="t m" x="1267" y="663" font-size="36" textLength="387" lengthAdjust="spacingAndGlyphs">corporate governance</text></g>
<g id="n-construction-industry"><circle class="r" cx="1334" cy="716" r="10"/><text class="t" x="1332" y="712" font-size="31" textLength="315" lengthAdjust="spacingAndGlyphs">construction industry</text></g>
<g id="n-social-performance"><circle class="r" cx="832" cy="785" r="8"/><text class="t" x="807" y="785" font-size="31" textLength="280" lengthAdjust="spacingAndGlyphs">social performance</text></g>
<g id="n-environmental-performance"><circle class="r" cx="849" cy="835" r="15"/><text class="t" x="850" y="832" font-size="34" textLength="451" lengthAdjust="spacingAndGlyphs">environmental performance</text></g>
<g id="n-financial-performance"><circle class="r" cx="1650" cy="789" r="12"/><text class="t" x="1650" y="789" font-size="34" textLength="348" lengthAdjust="spacingAndGlyphs">financial performance</text></g>
<g id="n-social-media"><circle class="r" cx="2195" cy="890" r="10"/><text class="t" x="2198" y="888" font-size="31" textLength="179" lengthAdjust="spacingAndGlyphs">social media</text></g>
<g id="n-policy"><text class="t" x="828" y="942" font-size="30" textLength="85" lengthAdjust="spacingAndGlyphs">policy</text></g>
<g id="n-ethics"><circle class="r" cx="1959" cy="1054" r="8"/><text class="t" x="1962" y="1054" font-size="31" textLength="91" lengthAdjust="spacingAndGlyphs">ethics</text></g>
<g id="n-stakeholders"><circle class="r" cx="1400" cy="1124" r="15"/><text class="t" x="1378" y="1126" font-size="30" textLength="162" lengthAdjust="spacingAndGlyphs">stakeholders</text></g>
<g id="n-strategy"><circle class="r" cx="1499" cy="1118" r="10"/><text class="t" x="1540" y="1126" font-size="30" textLength="140" lengthAdjust="spacingAndGlyphs">strategy</text></g>
<g id="n-culture"><circle class="r" cx="1625" cy="1118" r="10"/><text class="t f" x="1675" y="1126" font-size="30" textLength="112" lengthAdjust="spacingAndGlyphs">culture</text></g>
<g id="n-environment"><circle class="r" cx="1433" cy="1255" r="23"/><text class="t" x="1439" y="1253" font-size="37" textLength="224" lengthAdjust="spacingAndGlyphs">environment</text></g>
<g id="n-smes"><circle class="r" cx="1785" cy="1267" r="12"/><text class="t" x="1784" y="1263" font-size="30" textLength="79" lengthAdjust="spacingAndGlyphs">smes</text></g>
<g id="n-green-finance"><circle class="r" cx="1679" cy="1321" r="10"/><text class="t" x="1676" y="1323" font-size="30" textLength="199" lengthAdjust="spacingAndGlyphs">green finance</text></g>
<g id="n-global-reporting-initiative"><circle class="r" cx="1319" cy="1418" r="10"/><text class="t" x="1324" y="1420" font-size="32" textLength="373" lengthAdjust="spacingAndGlyphs">global reporting initiative</text></g>
<g id="n-green"><circle class="r" cx="1679" cy="1435" r="10"/><text class="t" x="1709" y="1435" font-size="30" textLength="87" lengthAdjust="spacingAndGlyphs">green</text></g>
<g id="n-brand"><circle class="r" cx="1857" cy="1454" r="10"/><text class="t" x="1860" y="1454" font-size="30" textLength="87" lengthAdjust="spacingAndGlyphs">brand</text></g>
<g id="n-marketing"><circle class="r" cx="1739" cy="1580" r="10"/><text class="t m" x="1740" y="1578" font-size="30" textLength="149" lengthAdjust="spacingAndGlyphs">marketing</text></g>
<g id="n-clean-development-mechanism"><circle class="r" cx="1187" cy="1683" r="10"/><circle class="r" cx="1344" cy="1702" r="12"/><text class="t" x="1347" y="1698" font-size="32" textLength="458" lengthAdjust="spacingAndGlyphs">clean development mechanism</text></g>
<g id="n-human-resource-management"><circle class="r" cx="1886" cy="1706" r="12"/><text class="t" x="1886" y="1706" font-size="32" textLength="445" lengthAdjust="spacingAndGlyphs">human resource management</text></g>
<g id="n-poverty"><circle class="r" cx="1278" cy="1789" r="10"/><text class="t" x="1269" y="1791" font-size="30" textLength="112" lengthAdjust="spacingAndGlyphs">poverty</text></g>
<g id="n-blue-unlabelled">
<circle class="b" cx="605" cy="907" r="13"/><circle class="b" cx="433" cy="1044" r="12"/><circle class="b" cx="783" cy="1050" r="21"/><circle class="b" cx="793" cy="998" r="10"/>
<circle class="b" cx="864" cy="1089" r="13"/><circle class="b" cx="677" cy="1166" r="15"/><circle class="b" cx="623" cy="1201" r="15"/><circle class="b" cx="901" cy="1288" r="13"/>
<circle class="b" cx="356" cy="1309" r="12"/><circle class="b" cx="487" cy="1421" r="12"/><circle class="b" cx="367" cy="1445" r="10"/><circle class="b" cx="866" cy="1447" r="15"/>
<circle class="b" cx="1114" cy="1532" r="13"/><circle class="b" cx="990" cy="799" r="12"/>
</g>
<g id="n-resilience"><circle class="b" cx="725" cy="451" r="8"/><text class="t" x="726" y="451" font-size="30" textLength="137" lengthAdjust="spacingAndGlyphs">resilience</text></g>
<g id="n-energy"><circle class="b" cx="513" cy="872" r="10"/><text class="t f" x="461" y="870" font-size="30" textLength="91" lengthAdjust="spacingAndGlyphs">energy</text></g>
<g id="n-energy-policy"><circle class="b" cx="470" cy="942" r="16"/><text class="t" x="469" y="940" font-size="33" textLength="211" lengthAdjust="spacingAndGlyphs">energy policy</text></g>
<g id="n-hydropower"><circle class="b" cx="367" cy="1021" r="17"/><text class="t" x="365" y="1019" font-size="33" textLength="199" lengthAdjust="spacingAndGlyphs">hydropower</text></g>
<g id="n-industrial-ecology"><circle class="b" cx="605" cy="1062" r="8"/><text class="t" x="607" y="1062" font-size="30" textLength="259" lengthAdjust="spacingAndGlyphs">industrial ecology</text></g>
<g id="n-environmental-impact"><circle class="b" cx="545" cy="1116" r="12"/><text class="t" x="542" y="1116" font-size="30" textLength="325" lengthAdjust="spacingAndGlyphs">environmental impact</text></g>
<g id="n-solar-energy"><circle class="b" cx="456" cy="1160" r="17"/><text class="t" x="451" y="1160" font-size="32" textLength="197" lengthAdjust="spacingAndGlyphs">solar energy</text></g>
<g id="n-climate-change-left"><circle class="b" cx="230" cy="1151" r="10"/><text class="t f" x="126" y="1149" font-size="30" textLength="174" lengthAdjust="spacingAndGlyphs">climate change</text></g>
<g id="n-community-energy"><circle class="b" cx="298" cy="1228" r="8"/><text class="t" x="298" y="1228" font-size="30" textLength="278" lengthAdjust="spacingAndGlyphs">community energy</text></g>
<g id="n-sustainable-development-goals"><circle class="r" cx="1013" cy="1160" r="27"/><text class="t" x="1012" y="1158" font-size="42" textLength="625" lengthAdjust="spacingAndGlyphs">sustainable development goals</text></g>
<g id="n-climate-change"><circle class="b" cx="754" cy="1218" r="21"/><circle class="b" cx="828" cy="1215" r="27"/><text class="t f" x="827" y="1213" font-size="36" textLength="261" lengthAdjust="spacingAndGlyphs">climate change</text></g>
<g id="n-energy-transition"><circle class="b" cx="449" cy="1334" r="21"/><text class="t f" x="450" y="1334" font-size="34" textLength="300" lengthAdjust="spacingAndGlyphs">energy transition</text></g>
<g id="n-biogas"><circle class="b" cx="615" cy="1321" r="15"/><text class="t" x="702" y="1323" font-size="31" textLength="101" lengthAdjust="spacingAndGlyphs">biogas</text></g>
<g id="n-circular-economy"><circle class="b" cx="1006" cy="1325" r="19"/><text class="t" x="1004" y="1323" font-size="36" textLength="298" lengthAdjust="spacingAndGlyphs">circular economy</text></g>
<g id="n-life-cycle-assessment"><circle class="b" cx="623" cy="1509" r="19"/><circle class="b" cx="714" cy="1509" r="17"/><text class="t" x="715" y="1510" font-size="37" textLength="362" lengthAdjust="spacingAndGlyphs">life cycle assessment</text></g>
<g id="n-greenhouse-gas-emissions"><circle class="b" cx="600" cy="1582" r="10"/><text class="t" x="665" y="1582" font-size="31" textLength="391" lengthAdjust="spacingAndGlyphs">greenhouse gas emissions</text></g>
<g id="n-agriculture"><circle class="b" cx="970" cy="1592" r="10"/><text class="t" x="970" y="1592" font-size="31" textLength="161" lengthAdjust="spacingAndGlyphs">agriculture</text></g>
<g id="n-yellow-unlabelled"><circle class="y" cx="1362" cy="1302" r="12"/><circle class="y" cx="1445" cy="1667" r="10"/><circle class="y" cx="948" cy="1901" r="13"/><circle class="y" cx="950" cy="1982" r="13"/><circle class="y" cx="1083" cy="2015" r="15"/></g>
<g id="n-environmental-sustainability"><circle class="y" cx="1423" cy="1520" r="33"/><text class="t" x="1422" y="1522" font-size="40" textLength="532" lengthAdjust="spacingAndGlyphs">environmental sustainability</text></g>
<g id="n-economic-growth"><circle class="y" cx="890" cy="1750" r="23"/><text class="t" x="894" y="1758" font-size="37" textLength="302" lengthAdjust="spacingAndGlyphs">economic growth</text></g>
<g id="n-carbon-emissions"><circle class="y" cx="990" cy="1853" r="13"/><text class="t f" x="964" y="1853" font-size="30" textLength="199" lengthAdjust="spacingAndGlyphs">carbon emissions</text></g>
<g id="n-energy-consumption"><circle class="y" cx="890" cy="1895" r="17"/><text class="t f" x="848" y="1893" font-size="30" textLength="257" lengthAdjust="spacingAndGlyphs">energy consumption</text></g>
<g id="n-co2-emissions"><circle class="y" cx="1095" cy="1893" r="15"/><text class="t" x="1100" y="1890" font-size="34" textLength="220" lengthAdjust="spacingAndGlyphs">co2 emissions</text></g>
<g id="n-ecological-footprint"><circle class="y" cx="855" cy="1975" r="17"/><text class="t" x="828" y="1967" font-size="30" textLength="255" lengthAdjust="spacingAndGlyphs">ecological footprint</text></g>
<g id="n-renewable-energy-consumption"><circle class="y" cx="911" cy="2015" r="15"/><text class="t f" x="904" y="2013" font-size="33" textLength="505" lengthAdjust="spacingAndGlyphs">renewable energy consumption</text></g>
<g id="n-urbanization"><circle class="y" cx="967" cy="2085" r="6"/><text class="t" x="969" y="2085" font-size="30" textLength="186" lengthAdjust="spacingAndGlyphs">urbanization</text></g>
<g id="n-green-unlabelled">
<circle class="gr" cx="2284" cy="1193" r="13"/><circle class="gr" cx="2323" cy="1292" r="13"/><circle class="gr" cx="2421" cy="1348" r="17"/><circle class="gr" cx="2458" cy="1379" r="12"/>
<circle class="gr" cx="2491" cy="1354" r="10"/><circle class="gr" cx="2377" cy="1396" r="17"/><circle class="gr" cx="2549" cy="1447" r="12"/><circle class="gr" cx="2659" cy="1454" r="19"/>
<circle class="gr" cx="2711" cy="1460" r="23"/><circle class="gr" cx="1642" cy="1532" r="19"/>
</g>
<g id="n-consumer-behaviour"><circle class="gr" cx="2387" cy="808" r="10"/><text class="t" x="2386" y="808" font-size="30" textLength="304" lengthAdjust="spacingAndGlyphs">consumer behaviour</text></g>
<g id="n-trust"><circle class="gr" cx="2383" cy="919" r="8"/><text class="t" x="2381" y="913" font-size="30" textLength="73" lengthAdjust="spacingAndGlyphs">trust</text></g>
<g id="n-millennials"><circle class="gr" cx="2396" cy="961" r="10"/><text class="t m" x="2394" y="957" font-size="30" textLength="162" lengthAdjust="spacingAndGlyphs">millennials</text></g>
<g id="n-values"><circle class="gr" cx="2195" cy="1004" r="10"/><text class="t" x="2194" y="1002" font-size="30" textLength="95" lengthAdjust="spacingAndGlyphs">values</text></g>
<g id="n-sustainable-consumption"><circle class="gr" cx="2532" cy="1058" r="12"/><text class="t" x="2534" y="1058" font-size="31" textLength="371" lengthAdjust="spacingAndGlyphs">sustainable consumption</text></g>
<g id="n-brand-image"><circle class="gr" cx="2040" cy="1174" r="12"/><text class="t" x="2041" y="1174" font-size="30" textLength="184" lengthAdjust="spacingAndGlyphs">brand image</text></g>
<g id="n-green-marketing"><circle class="gr" cx="2429" cy="1238" r="27"/><text class="t" x="2429" y="1230" font-size="40" textLength="309" lengthAdjust="spacingAndGlyphs">green marketing</text></g>
<g id="n-green-satisfaction"><text class="t" x="2581" y="1290" font-size="31" textLength="261" lengthAdjust="spacingAndGlyphs">green satisfaction</text></g>
<g id="n-green-brand"><circle class="gr" cx="2278" cy="1313" r="21"/><text class="t" x="2274" y="1311" font-size="34" textLength="193" lengthAdjust="spacingAndGlyphs">green brand</text></g>
<g id="n-green-brand-equity"><circle class="gr" cx="2584" cy="1381" r="25"/><text class="t" x="2662" y="1383" font-size="38" textLength="335" lengthAdjust="spacingAndGlyphs">green brand equity</text></g>
<g id="n-brand-equity"><circle class="gr" cx="2207" cy="1400" r="17"/><text class="t" x="2203" y="1398" font-size="34" textLength="205" lengthAdjust="spacingAndGlyphs">brand equity</text></g>
<g id="n-branding"><circle class="gr" cx="2060" cy="1470" r="10"/><text class="t" x="2058" y="1468" font-size="30" textLength="132" lengthAdjust="spacingAndGlyphs">branding</text></g>
<g id="n-green-brand-image"><circle class="gr" cx="2592" cy="1483" r="33"/><text class="t" x="2593" y="1483" font-size="38" textLength="333" lengthAdjust="spacingAndGlyphs">green brand image</text></g>
<g id="n-green-brand-loyalty"><circle class="gr" cx="2251" cy="1514" r="10"/><text class="t m" x="2253" y="1514" font-size="30" textLength="286" lengthAdjust="spacingAndGlyphs">green brand loyalty</text></g>
<g id="n-green-innovation"><circle class="gr" cx="1924" cy="1551" r="13"/><text class="t" x="1930" y="1551" font-size="31" textLength="248" lengthAdjust="spacingAndGlyphs">green innovation</text></g>
<g id="n-green-purchase-intention"><circle class="gr" cx="2702" cy="1563" r="10"/><text class="t" x="2702" y="1565" font-size="31" textLength="375" lengthAdjust="spacingAndGlyphs">green purchase intention</text></g>
<g id="n-green-brand-knowledge"><circle class="gr" cx="2787" cy="1603" r="12"/><text class="t f" x="2785" y="1603" font-size="30" textLength="348" lengthAdjust="spacingAndGlyphs">green brand knowledge</text></g>
<g id="n-green-brand-positioning"><circle class="gr" cx="2798" cy="1644" r="15"/><text class="t" x="2798" y="1642" font-size="34" textLength="385" lengthAdjust="spacingAndGlyphs">green brand positioning</text></g>
</svg>
